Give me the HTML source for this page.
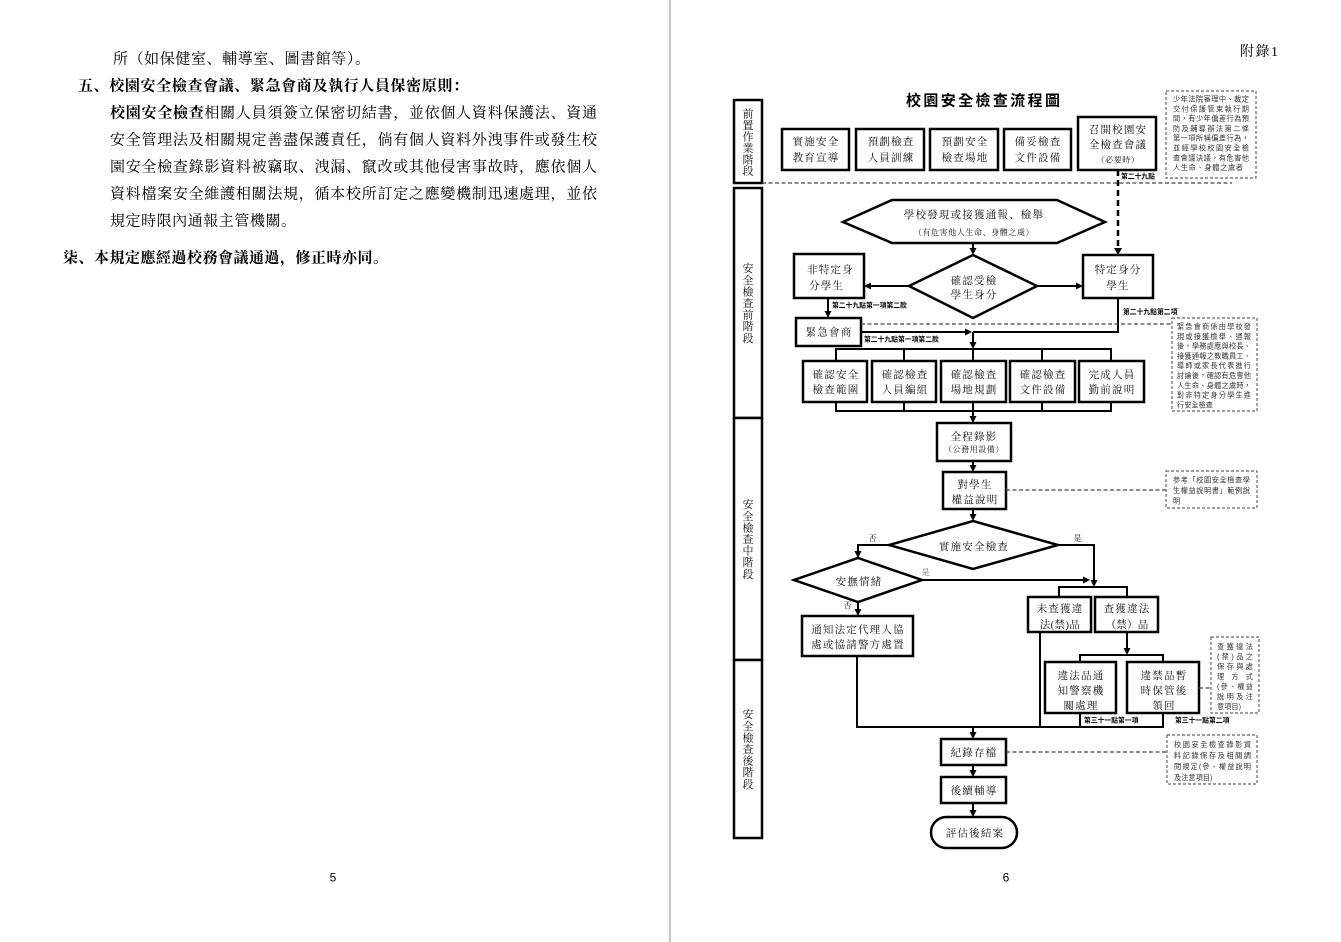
<!DOCTYPE html>
<html><head><meta charset="utf-8"><style>
html,body{margin:0;padding:0;background:#fff;}
svg{display:block;}
.s{font-family:"Liberation Serif","Noto Serif CJK SC",serif;fill:#000;}
.bt{font-family:"Liberation Serif","Noto Serif CJK SC",serif;font-size:10.5px;letter-spacing:1.2px;text-anchor:middle;fill:#111;}
.sm{font-family:"Liberation Serif","Noto Serif CJK SC",serif;font-size:8px;letter-spacing:0.6px;text-anchor:middle;fill:#111;}
.nt{font-family:"Liberation Sans","Noto Sans CJK TC",sans-serif;font-size:7.2px;fill:#333;}
.lb{font-family:"Liberation Sans","Noto Sans CJK TC",sans-serif;font-size:6.8px;font-weight:700;fill:#000;}
.ph{font-family:"Liberation Serif","Noto Serif CJK SC",serif;font-size:11px;text-anchor:middle;fill:#111;}
.bx{fill:#fff;stroke:#000;stroke-width:2.5;}
.ln{fill:none;stroke:#000;stroke-width:2;}
.dl{fill:none;stroke:#444;stroke-width:1.2;stroke-dasharray:4 2.5;}
.nb{fill:#fff;stroke:#666;stroke-width:1.2;stroke-dasharray:3 2;}
</style></head><body>
<svg width="1341" height="942" viewBox="0 0 1341 942" xmlns="http://www.w3.org/2000/svg">
<rect width="1341" height="942" fill="#fff"/>
<rect x="669" y="0" width="2" height="942" fill="#c8c8c8"/>

<!-- LEFT PAGE -->
<g class="s" font-size="15">
<text x="113" y="63.7" textLength="257" lengthAdjust="spacing">所（如保健室、輔導室、圖書館等）。</text>
<text x="78" y="90.7" font-weight="700" textLength="390" lengthAdjust="spacing">五、校園安全檢查會議、緊急會商及執行人員保密原則：</text>
<text x="110" y="117.7" textLength="487" lengthAdjust="spacing"><tspan font-weight="700">校園安全檢查</tspan>相關人員須簽立保密切結書，並依個人資料保護法、資通</text>
<text x="110" y="144.7" textLength="487" lengthAdjust="spacing">安全管理法及相關規定善盡保護責任，倘有個人資料外洩事件或發生校</text>
<text x="110" y="171.7" textLength="487" lengthAdjust="spacing">園安全檢查錄影資料被竊取、洩漏、竄改或其他侵害事故時，應依個人</text>
<text x="110" y="198.7" textLength="487" lengthAdjust="spacing">資料檔案安全維護相關法規，循本校所訂定之應變機制迅速處理，並依</text>
<text x="110" y="225.7" textLength="186" lengthAdjust="spacing">規定時限內通報主管機關。</text>
<text x="63" y="262.7" font-weight="700" textLength="325" lengthAdjust="spacing">柒、本規定應經過校務會議通過，修正時亦同。</text>
</g>
<text x="333" y="881.5" font-family="Liberation Sans, sans-serif" font-size="12" text-anchor="middle">5</text>
<text x="1006" y="881.5" font-family="Liberation Sans, sans-serif" font-size="12" text-anchor="middle">6</text>

<!-- RIGHT PAGE -->
<text x="1240" y="56" class="s" font-size="14" textLength="38" lengthAdjust="spacing">附錄1</text>
<text x="906" y="105.7" font-family="Liberation Sans, 'Noto Sans CJK TC', sans-serif" font-weight="700" font-size="15" textLength="154" lengthAdjust="spacing">校園安全檢查流程圖</text>

<!-- phase boxes -->
<rect class="bx" x="734" y="100" width="28" height="83"/>
<rect class="bx" x="734" y="188" width="28" height="230"/>
<rect class="bx" x="734" y="418" width="28" height="242"/>
<rect class="bx" x="734" y="660" width="28" height="178"/>
<g class="ph">
<text x="748" y="117.7">前</text><text x="748" y="129.1">置</text><text x="748" y="140.5">作</text><text x="748" y="151.9">業</text><text x="748" y="163.3">階</text><text x="748" y="174.7">段</text>
<text x="748" y="272.2">安</text><text x="748" y="283.8">全</text><text x="748" y="295.4">檢</text><text x="748" y="307">查</text><text x="748" y="318.6">前</text><text x="748" y="330.2">階</text><text x="748" y="341.8">段</text>
<text x="748" y="508.2">安</text><text x="748" y="519.8">全</text><text x="748" y="531.4">檢</text><text x="748" y="543">查</text><text x="748" y="554.6">中</text><text x="748" y="566.2">階</text><text x="748" y="577.8">段</text>
<text x="748" y="718.2">安</text><text x="748" y="729.8">全</text><text x="748" y="741.4">檢</text><text x="748" y="753">查</text><text x="748" y="764.6">後</text><text x="748" y="776.2">階</text><text x="748" y="787.8">段</text>
</g>

<!-- dashed line under phase 1 -->
<line class="dl" x1="762" y1="183" x2="1232" y2="183"/>

<!-- top row boxes -->
<rect class="bx" x="782" y="129" width="67" height="41"/>
<rect class="bx" x="856" y="129" width="68" height="41"/>
<rect class="bx" x="930" y="129" width="68" height="41"/>
<rect class="bx" x="1004" y="129" width="67" height="41"/>
<rect class="bx" x="1078" y="117" width="78" height="53"/>
<text class="bt" x="816" y="145">實施安全</text><text class="bt" x="816" y="161">教育宣導</text>
<text class="bt" x="891" y="145">預劃檢查</text><text class="bt" x="891" y="161">人員訓練</text>
<text class="bt" x="965" y="145">預劃安全</text><text class="bt" x="965" y="161">檢查場地</text>
<text class="bt" x="1038" y="145">備妥檢查</text><text class="bt" x="1038" y="161">文件設備</text>
<text class="bt" x="1118" y="133">召開校園安</text><text class="bt" x="1118" y="148">全檢查會議</text>
<text class="sm" x="1118" y="162.5">（必要時）</text>

<!-- note A -->
<rect class="nb" x="1166" y="91" width="90" height="87"/>
<g class="nt">
<text x="1173" y="101.5" textLength="76" lengthAdjust="spacing">少年法院審理中、裁定</text>
<text x="1173" y="111.3" textLength="76" lengthAdjust="spacing">交付保護管束執行期</text>
<text x="1173" y="121.1" textLength="76" lengthAdjust="spacing">間，有少年偏差行為預</text>
<text x="1173" y="130.9" textLength="76" lengthAdjust="spacing">防及輔導辦法第二條</text>
<text x="1173" y="140.7" textLength="76" lengthAdjust="spacing">第一項所稱偏差行為，</text>
<text x="1173" y="150.5" textLength="76" lengthAdjust="spacing">並經學校校園安全檢</text>
<text x="1173" y="160.3" textLength="76" lengthAdjust="spacing">查會議決議，有危害他</text>
<text x="1173" y="170.1" textLength="70" lengthAdjust="spacing">人生命、身體之虞者</text>
</g>

<!-- dashed B5 -> 特定 -->
<line x1="1118" y1="170" x2="1118" y2="249" stroke="#000" stroke-width="2.5" stroke-dasharray="6 4"/>
<polygon points="1114,248 1122,248 1118,255"/>
<text class="lb" x="1121" y="178.5">第二十九點</text>

<!-- hexagon -->
<polygon class="bx" points="843,222 892,200 1057,200 1105,222 1057,243 892,243"/>
<text class="bt" x="974" y="218">學校發現或接獲通報、檢舉</text>
<text class="sm" x="974" y="235">（有危害他人生命、身體之虞）</text>
<line class="ln" x1="973" y1="243" x2="973" y2="249"/>
<polygon points="969.5,248 976.5,248 973,255"/>

<!-- diamond 1 -->
<polygon class="bx" points="973,255 1037,286 973,318 909,286"/>
<text class="bt" x="974" y="284">確認受檢</text><text class="bt" x="974" y="298">學生身分</text>
<line class="ln" x1="909" y1="286" x2="870" y2="286"/>
<polygon points="871,282.5 871,289.5 864,286"/>
<line class="ln" x1="1037" y1="286" x2="1077" y2="286"/>
<polygon points="1076,282.5 1076,289.5 1083,286"/>

<rect class="bx" x="794" y="254" width="70" height="44"/>
<text class="bt" x="807" y="273" style="text-anchor:start">非特定身</text>
<text class="bt" x="809" y="289" style="text-anchor:start">分學生</text>
<rect class="bx" x="1083" y="255" width="70" height="43"/>
<text class="bt" x="1118" y="273">特定身分</text><text class="bt" x="1118" y="289">學生</text>

<!-- 非特定 -> 緊急會商 -->
<line class="ln" x1="828" y1="298" x2="828" y2="312"/>
<polygon points="824.5,311 831.5,311 828,318"/>
<text class="lb" x="832" y="307.5">第二十九點第一項第二款</text>
<rect class="bx" x="796" y="318" width="65" height="28"/>
<text class="bt" x="829" y="335.5">緊急會商</text>

<!-- 特定 -> merge -->
<polyline class="ln" points="1118,298 1118,332 973,332"/>
<text class="lb" x="1123" y="314">第二十九點第二項</text>
<line class="ln" x1="861" y1="332" x2="966" y2="332"/>
<polygon points="965,328.5 965,335.5 972,332"/>
<text class="lb" x="864" y="341.5">第二十九點第一項第二款</text>
<line class="dl" x1="861" y1="324" x2="1172" y2="324"/>
<line class="ln" x1="973" y1="332" x2="973" y2="343"/>
<polygon points="969.5,342 976.5,342 973,349"/>

<!-- bracket top -->
<line class="ln" x1="835" y1="349" x2="1112" y2="349"/>
<line class="ln" x1="836" y1="349" x2="836" y2="361"/>
<line class="ln" x1="904" y1="349" x2="904" y2="361"/>
<line class="ln" x1="973" y1="349" x2="973" y2="361"/>
<line class="ln" x1="1042" y1="349" x2="1042" y2="361"/>
<line class="ln" x1="1111" y1="349" x2="1111" y2="361"/>
<rect class="bx" x="803" y="361" width="64" height="41"/>
<rect class="bx" x="872" y="361" width="64" height="41"/>
<rect class="bx" x="941" y="361" width="65" height="41"/>
<rect class="bx" x="1010" y="361" width="65" height="41"/>
<rect class="bx" x="1079" y="361" width="65" height="41"/>
<text class="bt" x="836" y="378">確認安全</text><text class="bt" x="836" y="393">檢查範圍</text>
<text class="bt" x="905" y="378">確認檢查</text><text class="bt" x="905" y="393">人員編組</text>
<text class="bt" x="974" y="378">確認檢查</text><text class="bt" x="974" y="393">場地規劃</text>
<text class="bt" x="1043" y="378">確認檢查</text><text class="bt" x="1043" y="393">文件設備</text>
<text class="bt" x="1112" y="378">完成人員</text><text class="bt" x="1112" y="393">勤前說明</text>
<!-- bracket bottom -->
<line class="ln" x1="836" y1="402" x2="836" y2="411"/>
<line class="ln" x1="904" y1="402" x2="904" y2="411"/>
<line class="ln" x1="973" y1="402" x2="973" y2="411"/>
<line class="ln" x1="1042" y1="402" x2="1042" y2="411"/>
<line class="ln" x1="1111" y1="402" x2="1111" y2="411"/>
<line class="ln" x1="835" y1="411" x2="1112" y2="411"/>
<line class="ln" x1="973" y1="411" x2="973" y2="417"/>
<polygon points="969.5,416 976.5,416 973,423"/>

<!-- note B -->
<rect class="nb" x="1172" y="318" width="85" height="93"/>
<g class="nt">
<text x="1177" y="329" textLength="74" lengthAdjust="spacing">緊急會商係由學校發</text>
<text x="1177" y="338.8" textLength="74" lengthAdjust="spacing">現或接獲檢舉、通報</text>
<text x="1177" y="348.6" textLength="74" lengthAdjust="spacing">後，學務處應與校長、</text>
<text x="1177" y="358.4" textLength="74" lengthAdjust="spacing">接獲通報之教職員工、</text>
<text x="1177" y="368.2" textLength="74" lengthAdjust="spacing">導師或家長代表進行</text>
<text x="1177" y="378" textLength="74" lengthAdjust="spacing">討論後，確認有危害他</text>
<text x="1177" y="387.8" textLength="74" lengthAdjust="spacing">人生命、身體之虞時，</text>
<text x="1177" y="397.6" textLength="74" lengthAdjust="spacing">對非特定身分學生進</text>
<text x="1177" y="407.4">行安全檢查</text>
</g>

<!-- 全程錄影 -->
<rect class="bx" x="937" y="423" width="74" height="38"/>
<text class="bt" x="974" y="440">全程錄影</text>
<text class="sm" x="974" y="452">（公務用設備）</text>
<line class="ln" x1="973" y1="461" x2="973" y2="466"/>
<polygon points="969.5,465 976.5,465 973,472"/>
<rect class="bx" x="943" y="472" width="63" height="37"/>
<text class="bt" x="975" y="488">對學生</text><text class="bt" x="975" y="503">權益說明</text>
<line class="dl" x1="1006" y1="490" x2="1166" y2="490"/>
<rect class="nb" x="1166" y="471" width="91" height="37"/>
<g class="nt">
<text x="1173" y="482.5" textLength="77" lengthAdjust="spacing">參考「校園安全檢查學</text>
<text x="1173" y="493" textLength="77" lengthAdjust="spacing">生權益說明書」範例說</text>
<text x="1173" y="503.5">明</text>
</g>
<line class="ln" x1="973" y1="509" x2="973" y2="515"/>
<polygon points="969.5,514 976.5,514 973,521"/>

<!-- diamond 2 -->
<polygon class="bx" points="973,521 1058,545 973,569 889,545"/>
<text class="bt" x="974" y="550">實施安全檢查</text>
<text class="sm" x="873" y="541">否</text>
<text class="sm" x="1078" y="541">是</text>
<polyline class="ln" points="889,545 858,545 858,552"/>
<polygon points="854.5,551 861.5,551 858,558"/>
<polyline class="ln" points="1058,545 1094,545 1094,581"/>
<polygon points="1090.5,580 1097.5,580 1094,587"/>

<!-- diamond 3 -->
<polygon class="bx" points="858,558 922,580 858,602 794,580"/>
<text class="bt" x="859" y="585">安撫情緒</text>
<text class="sm" x="926" y="575" style="fill:#666">是</text>
<line class="ln" x1="922" y1="580" x2="1084" y2="580"/>
<polygon points="1083,576.5 1083,583.5 1090,580"/>
<text class="sm" x="848" y="608">否</text>
<line class="ln" x1="858" y1="602" x2="858" y2="610"/>
<polygon points="854.5,609 861.5,609 858,616"/>

<!-- 通知 box -->
<rect class="bx" x="802" y="616" width="111" height="40"/>
<text class="bt" x="858" y="633">通知法定代理人協</text>
<text class="bt" x="858" y="648">處或協請警方處置</text>

<!-- bracket 587 -->
<line class="ln" x1="1058" y1="587" x2="1128" y2="587"/>
<line class="ln" x1="1059" y1="587" x2="1059" y2="597"/>
<line class="ln" x1="1127" y1="587" x2="1127" y2="597"/>
<rect class="bx" x="1028" y="597" width="63" height="35"/>
<rect class="bx" x="1095" y="597" width="63" height="35"/>
<text class="bt" x="1060" y="612">未查獲違</text><text class="bt" x="1060" y="628" style="letter-spacing:0.4px">法(禁)品</text>
<text class="bt" x="1127" y="612">查獲違法</text><text class="bt" x="1127" y="628" style="letter-spacing:0.2px">（禁）品</text>

<line class="ln" x1="1127" y1="632" x2="1127" y2="649"/>
<polygon points="1123.5,648 1130.5,648 1127,655"/>
<line class="ln" x1="1079" y1="655" x2="1164" y2="655"/>
<line class="ln" x1="1080" y1="655" x2="1080" y2="662"/>
<line class="ln" x1="1163" y1="655" x2="1163" y2="662"/>
<rect class="bx" x="1045" y="662" width="71" height="51"/>
<rect class="bx" x="1127" y="662" width="72" height="51"/>
<text class="bt" x="1081" y="679">違法品通</text><text class="bt" x="1081" y="694">知警察機</text><text class="bt" x="1081" y="709">關處理</text>
<text class="bt" x="1164" y="679">違禁品暫</text><text class="bt" x="1164" y="694">時保管後</text><text class="bt" x="1164" y="709">領回</text>
<line class="dl" x1="1199" y1="688" x2="1211" y2="688"/>
<rect class="nb" x="1211" y="637" width="48" height="76"/>
<g class="nt">
<text x="1217" y="649" textLength="36" lengthAdjust="spacing">查獲違法</text>
<text x="1217" y="659" textLength="36" lengthAdjust="spacing">(禁)品之</text>
<text x="1217" y="669" textLength="36" lengthAdjust="spacing">保存與處</text>
<text x="1217" y="679" textLength="36" lengthAdjust="spacing">理 方 式</text>
<text x="1217" y="689" textLength="36" lengthAdjust="spacing">(參、權益</text>
<text x="1217" y="699" textLength="36" lengthAdjust="spacing">說明及注</text>
<text x="1217" y="709">意項目)</text>
</g>

<!-- lines to bottom merge -->
<line class="ln" x1="1040" y1="632" x2="1040" y2="727"/>
<line class="ln" x1="1080" y1="713" x2="1080" y2="727"/>
<line class="ln" x1="1163" y1="713" x2="1163" y2="727"/>
<polyline class="ln" points="857,656 857,727 1164,727"/>
<text class="lb" x="1084" y="722.5">第三十一點第一項</text>
<text class="lb" x="1175" y="722.5">第三十一點第二項</text>
<line class="ln" x1="973" y1="727" x2="973" y2="733"/>
<polygon points="969.5,732 976.5,732 973,739"/>

<!-- 紀錄存檔 -->
<rect class="bx" x="941" y="739" width="65" height="26"/>
<text class="bt" x="974" y="756">紀錄存檔</text>
<line class="dl" x1="1006" y1="752" x2="1167" y2="752"/>
<rect class="nb" x="1167" y="735" width="90" height="49"/>
<g class="nt">
<text x="1174" y="747" textLength="77" lengthAdjust="spacing">校園安全檢查錄影資</text>
<text x="1174" y="758" textLength="77" lengthAdjust="spacing">料記錄保存及相關調</text>
<text x="1174" y="769" textLength="77" lengthAdjust="spacing">閱規定(參、權益說明</text>
<text x="1174" y="780">及注意項目)</text>
</g>
<line class="ln" x1="973" y1="765" x2="973" y2="771"/>
<polygon points="969.5,770 976.5,770 973,777"/>
<rect class="bx" x="941" y="777" width="65" height="26"/>
<text class="bt" x="974" y="794">後續輔導</text>
<line class="ln" x1="973" y1="803" x2="973" y2="811"/>
<polygon points="969.5,810 976.5,810 973,817"/>
<rect class="bx" x="931" y="817" width="86" height="31" rx="15.5" ry="15.5"/>
<text class="bt" x="975" y="836.5">評估後結案</text>
</svg>
</body></html>
